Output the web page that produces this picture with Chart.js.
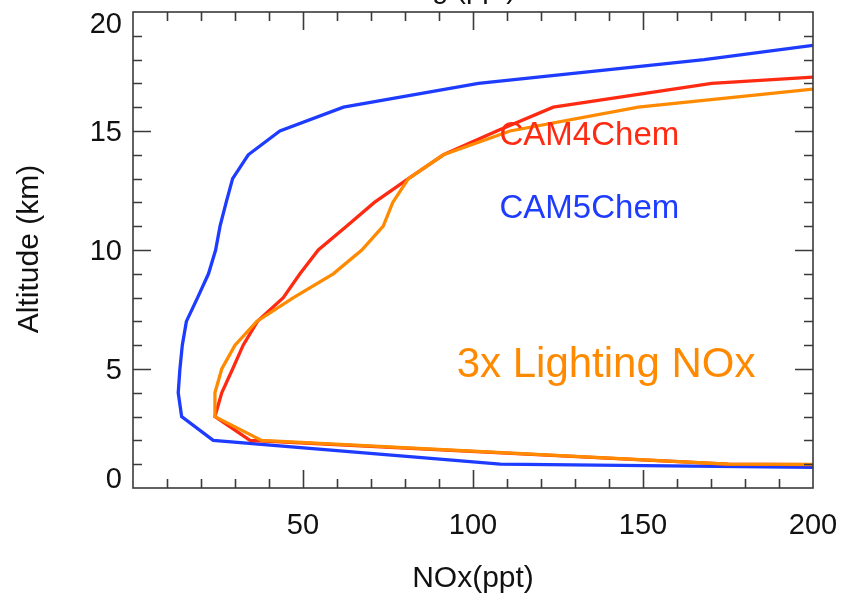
<!DOCTYPE html>
<html lang="en">
<head>
    <meta charset="UTF-8">
    <title>NOx profiles</title>
    <script src="https://cdn.jsdelivr.net/npm/chart.js"></script>
    <style>
        body {
            margin: 0;
            background: #fff;
        }
        .chart-box {
            width: 841px;
            height: 598px;
        }
    </style>
</head>
<body>
    <div class="chart-box">
        <canvas id="noxChart"></canvas>
    </div>

    <script>
        // Profiles, from the surface up (km / ppt)
        const cam5Alt = [0.87, 1.0, 2.0, 3.0, 4.0, 5.0, 6.0, 7.0, 8.0, 9.0, 10.0, 11.0, 12.0, 13.0, 14.0, 15.0, 16.0, 17.0, 18.0, 18.6];
        const cam5Nox = [200, 108, 23.6, 14.3, 13.3, 13.8, 14.5, 15.7, 19.0, 22.2, 24.3, 25.6, 27.4, 29.3, 33.9, 43.2, 61.9, 101.6, 168, 200];

        const cam4Alt = [0.98, 1.0, 2.0, 3.0, 4.0, 5.0, 6.0, 7.0, 8.0, 9.0, 10.0, 11.0, 12.0, 13.0, 14.0, 15.0, 16.0, 17.0, 17.26];
        const cam4Nox = [200, 175, 34.4, 24.1, 26.1, 29.3, 32.4, 36.6, 44.2, 49.1, 54.5, 62.8, 71.0, 81.0, 91.3, 107, 123.6, 170.2, 200];

        const lnoxAlt = [0.99, 1.0, 2.0, 3.0, 4.0, 5.0, 6.0, 7.0, 8.0, 9.0, 10.0, 11.0, 12.0, 13.0, 14.0, 15.0, 16.0, 16.76];
        const lnoxNox = [200, 175, 37.8, 24.1, 24.1, 26.1, 30.0, 36.4, 47.2, 58.9, 67.3, 73.6, 76.4, 81.0, 91.3, 110.9, 148.6, 200];

        const xTickLabels = [50, 100, 150, 200];
        const yTickLabels = [0, 5, 10, 15, 20];

        const BLUE = '#1e3cff';
        const RED = '#ff2a12';
        const ORANGE = '#ff8a00';
        const FONT = '"Liberation Sans", Arial, Helvetica, sans-serif';

        function toPoints(xs, ys) {
            return xs.map((x, i) => ({ x: x, y: ys[i] }));
        }

        function profile(label, xs, ys, color) {
            return {
                label: label,
                data: toPoints(xs, ys),
                showLine: true,
                borderColor: color,
                borderWidth: 3.3,
                pointRadius: 0,
                tension: 0,
                clip: 0
            };
        }

        // box with inward ticks on all four sides, labels and text
        const framePlugin = {
            id: 'frame',
            afterDraw(chart) {
                const ctx = chart.ctx;
                const a = chart.chartArea;
                const xs = chart.scales.x;
                const ys = chart.scales.y;

                ctx.save();
                ctx.strokeStyle = '#3a3a3a';
                ctx.lineWidth = 1.6;
                ctx.strokeRect(a.left, a.top, a.right - a.left, a.bottom - a.top);

                ctx.beginPath();
                for (let v = 10; v < 200; v += 10) {
                    const px = Math.round(xs.getPixelForValue(v)) + 0.5;
                    const len = v % 50 === 0 ? 18 : 9;
                    ctx.moveTo(px, a.bottom); ctx.lineTo(px, a.bottom - len);
                    ctx.moveTo(px, a.top); ctx.lineTo(px, a.top + len);
                }
                for (let v = 1; v < 20; v++) {
                    const py = Math.round(ys.getPixelForValue(v)) + 0.5;
                    const len = v % 5 === 0 ? 18 : 9;
                    ctx.moveTo(a.left, py); ctx.lineTo(a.left + len, py);
                    ctx.moveTo(a.right, py); ctx.lineTo(a.right - len, py);
                }
                ctx.stroke();

                // tick labels
                ctx.fillStyle = '#111';
                ctx.font = '29px ' + FONT;
                ctx.textAlign = 'center';
                ctx.textBaseline = 'alphabetic';
                xTickLabels.forEach(v => {
                    ctx.fillText(String(v), xs.getPixelForValue(v), 534);
                });
                ctx.textAlign = 'right';
                const half = 10.4;
                yTickLabels.forEach(v => {
                    let cy = ys.getPixelForValue(v);
                    cy = Math.min(Math.max(cy, a.top + half), a.bottom - half);
                    ctx.fillText(String(v), 122, cy + half);
                });

                // axis titles
                ctx.font = '30px ' + FONT;
                ctx.textAlign = 'center';
                ctx.fillText('NOx(ppt)', 473, 587);
                ctx.save();
                ctx.translate(38, 249);
                ctx.rotate(-Math.PI / 2);
                ctx.fillText('Altitude (km)', 0, 0);
                ctx.restore();

                // title sits above the top edge of the page
                ctx.font = '29px ' + FONT;
                ctx.textAlign = 'right';
                ctx.fillText('NOx mixing (ppt)', 516, -2);

                // series names
                ctx.textAlign = 'left';
                ctx.font = '33px ' + FONT;
                ctx.fillStyle = RED;
                ctx.fillText('CAM4Chem', xs.getPixelForValue(107.8), ys.getPixelForValue(14.41));
                ctx.fillStyle = BLUE;
                ctx.fillText('CAM5Chem', xs.getPixelForValue(107.8), ys.getPixelForValue(11.34));
                ctx.font = '42px ' + FONT;
                ctx.fillStyle = ORANGE;
                ctx.fillText('3x Lighting NOx', xs.getPixelForValue(95.2), ys.getPixelForValue(4.68));
                ctx.restore();
            }
        };

        new Chart(document.getElementById('noxChart'), {
            type: 'scatter',
            data: {
                datasets: [
                    profile('3x Lighting NOx', lnoxNox, lnoxAlt, ORANGE),
                    profile('CAM4Chem', cam4Nox, cam4Alt, RED),
                    profile('CAM5Chem', cam5Nox, cam5Alt, BLUE)
                ]
            },
            options: {
                responsive: true,
                maintainAspectRatio: false,
                animation: false,
                layout: {
                    padding: { left: 133, top: 12, right: 28, bottom: 110 }
                },
                scales: {
                    x: { type: 'linear', min: 0, max: 200, display: false },
                    y: { type: 'linear', min: 0, max: 20, display: false }
                },
                plugins: {
                    legend: { display: false },
                    tooltip: { enabled: false }
                }
            },
            plugins: [framePlugin]
        });
    </script>
</body>
</html>
